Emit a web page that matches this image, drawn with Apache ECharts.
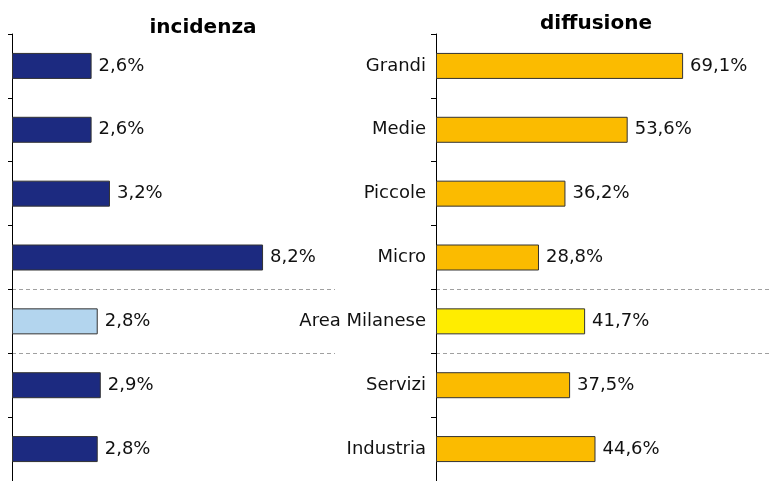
<!DOCTYPE html>
<html>
<head>
<meta charset="utf-8">
<script src="https://cdn.jsdelivr.net/npm/echarts@6/dist/echarts.min.js"></script>
<style>
  html, body { margin: 0; padding: 0; background: #fff; }
  #chart { width: 784px; height: 481px; }
</style>
</head>
<body>
<div id="chart"></div>
<script>
var categories = ['Grandi', 'Medie', 'Piccole', 'Micro', 'Area Milanese', 'Servizi', 'Industria'];
var incidenza = [2.6, 2.6, 3.2, 8.2, 2.8, 2.9, 2.8];
var diffusione = [69.1, 53.6, 36.2, 28.8, 41.7, 37.5, 44.6];
var highlightIndex = 4;   // Area Milanese

var FONT = 'DejaVu Sans';

function pct(v) {
    return v.toFixed(1).replace('.', ',') + '%';
}

function coloured(values, base, special) {
    return values.map(function (v, i) {
        return {
            value: v,
            itemStyle: { color: i === highlightIndex ? special : base }
        };
    });
}

// dashed separators around the "Area Milanese" row
var separator = {
    show: true,
    interval: function (index) { return index === 4 || index === 5; },
    lineStyle: { color: '#a0a0a0', type: [4, 3], width: 1 }
};

var myChart = echarts.init(document.getElementById('chart'));
var option = {
    animation: false,
    title: [
        {
            text: 'incidenza', left: 198, top: 13, textAlign: 'center',
            textStyle: { fontFamily: FONT, fontSize: 20, fontWeight: 'bold', color: '#000' }
        },
        {
            text: 'diffusione', left: 591, top: 9, textAlign: 'center',
            textStyle: { fontFamily: FONT, fontSize: 20, fontWeight: 'bold', color: '#000' }
        }
    ],
    grid: [
        { left: 12, top: 34, width: 323, height: 451 },
        { left: 436, top: 34, width: 334, height: 451 }
    ],
    xAxis: [
        { gridIndex: 0, type: 'value', min: 0, max: 10.55, show: false },
        { gridIndex: 1, type: 'value', min: 0, max: 93.4, show: false }
    ],
    yAxis: [
        {
            gridIndex: 0, type: 'category', data: categories, inverse: true,
            axisLine: { lineStyle: { color: '#000' } },
            axisTick: { show: true, length: 4, lineStyle: { color: '#000' } },
            axisLabel: { show: false },
            splitLine: separator
        },
        {
            gridIndex: 1, type: 'category', data: categories, inverse: true,
            axisLine: { lineStyle: { color: '#000' } },
            axisTick: { show: true, length: 5, lineStyle: { color: '#000' } },
            axisLabel: { fontFamily: FONT, fontSize: 18, color: '#111', margin: 10 },
            splitLine: separator
        }
    ],
    series: [
        {
            name: 'incidenza', type: 'bar', xAxisIndex: 0, yAxisIndex: 0,
            barWidth: 26,
            data: coloured(incidenza, '#1c2a80', '#b3d5ee'),
            itemStyle: { borderColor: '#333', borderWidth: 1 },
            label: {
                show: true, position: 'right', distance: 7,
                fontFamily: FONT, fontSize: 18, color: '#111',
                formatter: function (p) { return pct(p.value); }
            }
        },
        {
            name: 'diffusione', type: 'bar', xAxisIndex: 1, yAxisIndex: 1,
            barWidth: 26,
            data: coloured(diffusione, '#fbbb00', '#ffed00'),
            itemStyle: { borderColor: '#333', borderWidth: 1 },
            label: {
                show: true, position: 'right', distance: 7,
                fontFamily: FONT, fontSize: 18, color: '#111',
                formatter: function (p) { return pct(p.value); }
            }
        }
    ]
};

myChart.setOption(option);
</script>
</body>
</html>
